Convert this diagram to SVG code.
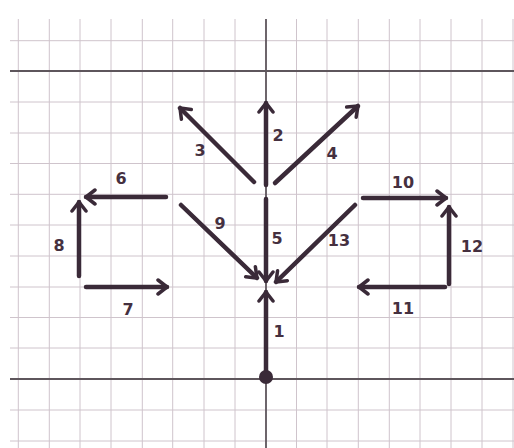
<svg xmlns="http://www.w3.org/2000/svg" width="514" height="448" viewBox="0 0 514 448">
<defs>
<style>
.g{stroke:#cfc4cc;stroke-width:1;fill:none}
.ax{stroke:#5e565c;stroke-width:1.8;fill:none}
.a{stroke:#3a2a38;stroke-width:4.5;fill:none;stroke-linecap:round}
.t{font-family:"DejaVu Sans",sans-serif;font-weight:bold;font-size:16px;fill:#45303f;text-anchor:middle}
</style>
<marker id="h" viewBox="-12 -10 14 20" markerWidth="14" markerHeight="20" refX="0" refY="0" orient="auto" markerUnits="userSpaceOnUse">
<path d="M-9,-7 L0,0 L-9,7" fill="none" stroke="#3a2a38" stroke-width="3.5" stroke-linecap="round" stroke-linejoin="round"/>
</marker>
</defs>
<rect width="514" height="448" fill="#ffffff"/>
<g id="grid">
<path class="g" d="M18.3,19V448M49.3,19V448M80,19V448M111,19V448M142.3,19V448M172.7,19V448M204,19V448M235,19V448M296.5,19V448M327,19V448M358.3,19V448M389.3,19V448M420,19V448M451,19V448M482,19V448M513,19V448"/>
<path class="g" d="M10,40.7H514M10,102H514M10,133H514M10,163.5H514M10,194.3H514M10,225H514M10,256H514M10,287H514M10,317.5H514M10,348H514M10,410H514M10,441H514"/>
<path class="ax" d="M10,71H514M10,379H514M266,19V448"/>
</g>
<g id="connectors">
<g id="arrow1"><line class="a" x1="266" y1="377" x2="266" y2="292" marker-end="url(#h)"/><circle cx="266" cy="377" r="7" fill="#3a2a38"/><text class="t" x="279" y="337">1</text></g>
<g id="arrow2"><line class="a" x1="266" y1="185" x2="266" y2="103" marker-end="url(#h)"/><text class="t" x="278" y="141">2</text></g>
<g id="arrow3"><line class="a" x1="254" y1="182" x2="180" y2="108" marker-end="url(#h)"/><text class="t" x="200" y="156">3</text></g>
<g id="arrow4"><line class="a" x1="275" y1="183" x2="358" y2="106" marker-end="url(#h)"/><text class="t" x="332" y="159">4</text></g>
<g id="arrow5"><line class="a" x1="266" y1="199" x2="266" y2="281" marker-end="url(#h)"/><text class="t" x="277" y="244">5</text></g>
<g id="arrow6"><line class="a" x1="166" y1="197" x2="86" y2="197" marker-end="url(#h)"/><text class="t" x="121" y="184">6</text></g>
<g id="arrow7"><line class="a" x1="86" y1="287" x2="167" y2="287" marker-end="url(#h)"/><text class="t" x="128" y="315">7</text></g>
<g id="arrow8"><line class="a" x1="79" y1="276" x2="79" y2="202" marker-end="url(#h)"/><text class="t" x="59" y="251">8</text></g>
<g id="arrow9"><line class="a" x1="181" y1="205" x2="257" y2="278" marker-end="url(#h)"/><text class="t" x="220" y="229">9</text></g>
<g id="arrow10"><line class="a" x1="363" y1="198" x2="446" y2="198" marker-end="url(#h)"/><text class="t" x="403" y="188">10</text></g>
<g id="arrow11"><line class="a" x1="445" y1="287" x2="359" y2="287" marker-end="url(#h)"/><text class="t" x="403" y="314">11</text></g>
<g id="arrow12"><line class="a" x1="449" y1="284" x2="449" y2="207" marker-end="url(#h)"/><text class="t" x="472" y="252">12</text></g>
<g id="arrow13"><line class="a" x1="355" y1="205" x2="276" y2="282" marker-end="url(#h)"/><text class="t" x="339" y="246">13</text></g>
</g>
</svg>
